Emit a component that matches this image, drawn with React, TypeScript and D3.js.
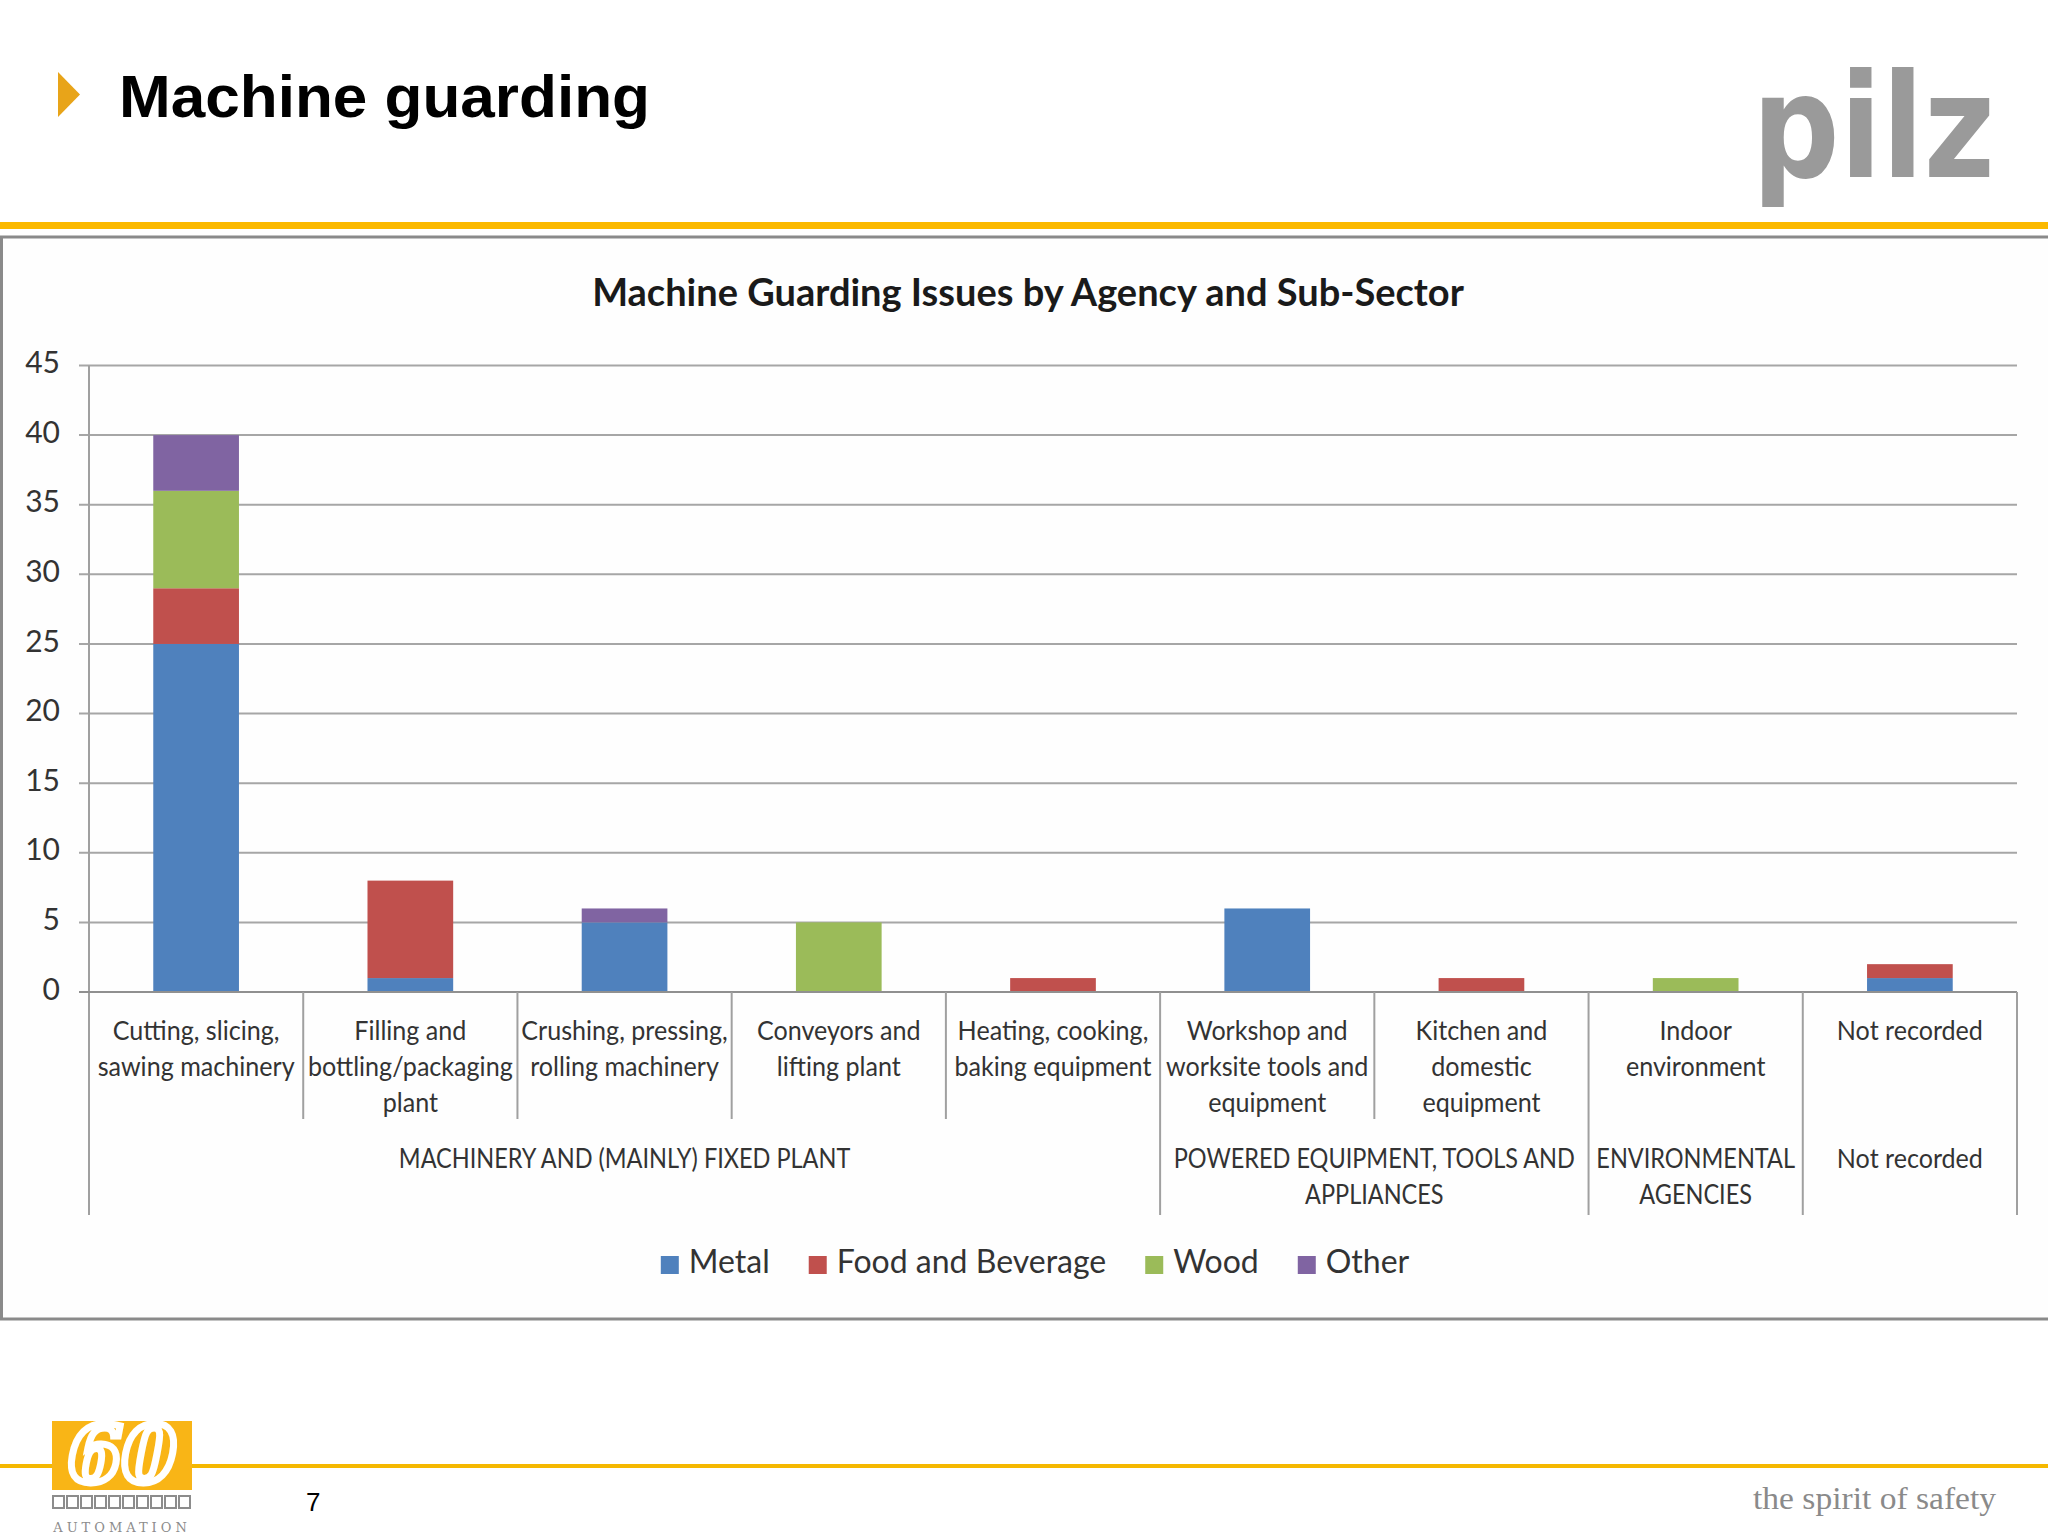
import * as d3 from "d3";

// categories (wrapped lines as shown on the axis)
const categoryLines = [
  ["Cutting, slicing,", "sawing machinery"],
  ["Filling and", "bottling/packaging", "plant"],
  ["Crushing, pressing,", "rolling machinery"],
  ["Conveyors and", "lifting plant"],
  ["Heating, cooking,", "baking equipment"],
  ["Workshop and", "worksite tools and", "equipment"],
  ["Kitchen and", "domestic", "equipment"],
  ["Indoor", "environment"],
  ["Not recorded"],
];
const categories = categoryLines.map((l) => l.join(" "));

// agency groups and how many categories each one covers
const groupLines = [
  ["MACHINERY AND (MAINLY) FIXED PLANT"],
  ["POWERED EQUIPMENT, TOOLS AND", "APPLIANCES"],
  ["ENVIRONMENTAL", "AGENCIES"],
  ["Not recorded"],
];
const groupSpans = [5, 2, 1, 1];

// series values
const metal = [25, 1, 5, 0, 0, 6, 0, 0, 1];
const foodAndBeverage = [4, 7, 0, 0, 1, 0, 1, 0, 1];
const wood = [7, 0, 0, 5, 0, 0, 0, 1, 0];
const other = [4, 0, 1, 0, 0, 0, 0, 0, 0];

const seriesNames = ["Metal", "Food and Beverage", "Wood", "Other"];
const seriesColors = ["#4F81BD", "#C0504D", "#9BBB59", "#8064A2"];

const W = 2048;
const H = 1536;
const PLOT = { left: 89, right: 2017, top: 365.5, bottom: 992 };
const FONT = "Lato, 'Open Sans', sans-serif";

export default function App() {
  const rows = categories.map((c, i) => ({
    category: c,
    Metal: metal[i],
    "Food and Beverage": foodAndBeverage[i],
    Wood: wood[i],
    Other: other[i],
  }));
  const stacked = d3.stack().keys(seriesNames)(rows as any);

  const x = d3.scaleBand().domain(categories).range([PLOT.left, PLOT.right]).padding(0);
  const y = d3.scaleLinear().domain([0, 45]).range([PLOT.bottom, PLOT.top]);
  const color = d3.scaleOrdinal<string>().domain(seriesNames).range(seriesColors);

  const bw = x.bandwidth();
  const barW = bw * 0.4;
  const ticks = y.ticks(9);

  // group boundaries (category indexes)
  const groupStarts = groupSpans.map((_, i) => d3.sum(groupSpans.slice(0, i)));
  const groupEnds = new Set(groupStarts.concat([categories.length]));

  const edgeX = (i: number) => (i < categories.length ? x(categories[i])! : PLOT.right);

  // legend layout measured with canvas
  const legendFont = 32;
  const ctx = document.createElement("canvas").getContext("2d")!;
  ctx.font = `${legendFont}px Lato`;
  const sq = 18;
  const items = seriesNames.map((n) => ({ name: n, w: sq + 10 + ctx.measureText(n).width }));
  const gap = 39;
  const totalW = d3.sum(items, (d) => d.w) + gap * (items.length - 1);
  let cursor = 1035 - totalW / 2;
  const legendItems = items.map((it) => {
    const o = { ...it, x: cursor };
    cursor += it.w + gap;
    return o;
  });

  return (
    <svg
      width={W}
      height={H}
      style={{ position: "absolute", left: 0, top: 0, background: "#fff" }}
    >
      {/* slide header */}
      <path d="M58,72 L80,94.5 L58,117 Z" fill="#E8A419" />
      <text
        x={119}
        y={117}
        fontFamily="'Liberation Sans', Arial, sans-serif"
        fontWeight="bold"
        fontSize={60}
        textLength={531}
        lengthAdjust="spacingAndGlyphs"
        fill="#000"
      >
        Machine guarding
      </text>
      <text
        x={1752}
        y={177}
        fontFamily="'DejaVu Sans', sans-serif"
        fontWeight="bold"
        fontSize={144}
        textLength={243}
        lengthAdjust="spacingAndGlyphs"
        fill="#9a9a9a"
      >
        pilz
      </text>
      <rect x={0} y={222} width={W} height={7} fill="#FBB900" />

      {/* chart frame */}
      <rect x={1.5} y={237} width={W + 10} height={1082} fill="#fefefe" stroke="#8a8a8a" strokeWidth={3} />

      <text
        x={1028}
        y={306}
        textAnchor="middle"
        fontFamily={FONT}
        fontWeight="bold"
        fontSize={38}
        fill="#1a1a1a"
      >
        Machine Guarding Issues by Agency and Sub-Sector
      </text>

      {/* gridlines + y ticks */}
      {ticks.map((t) => (
        <g key={t}>
          <line x1={79} x2={PLOT.right} y1={y(t)} y2={y(t)} stroke="#a6a6a6" strokeWidth={2} />
          <text
            x={60}
            y={y(t)}
            textAnchor="end"
            dominantBaseline="middle"
            fontFamily={FONT}
            fontSize={30}
            fill="#333"
          >
            {t}
          </text>
        </g>
      ))}

      {/* bars */}
      {stacked.map((s) => (
        <g key={s.key} fill={color(s.key)}>
          {s.map((d, i) =>
            d[1] - d[0] > 0 ? (
              <rect
                key={i}
                x={x(categories[i])! + (bw - barW) / 2}
                y={y(d[1])}
                width={barW}
                height={y(d[0]) - y(d[1])}
              />
            ) : null
          )}
        </g>
      ))}

      {/* axes */}
      <line x1={PLOT.left} x2={PLOT.left} y1={PLOT.top} y2={1215} stroke="#a0a0a0" strokeWidth={2} />
      <line x1={79} x2={PLOT.right} y1={PLOT.bottom} y2={PLOT.bottom} stroke="#909090" strokeWidth={2} />
      {d3.range(1, categories.length + 1).map((i) => (
        <line
          key={i}
          x1={edgeX(i)}
          x2={edgeX(i)}
          y1={PLOT.bottom}
          y2={groupEnds.has(i) ? 1215 : 1119}
          stroke="#a0a0a0"
          strokeWidth={2}
        />
      ))}

      {/* category labels, squeezed a little to fit like the original narrow font */}
      {categoryLines.map((lines, i) => (
        <g key={i} transform={`translate(${x(categories[i])! + bw / 2},0) scale(0.93,1)`}>
          <text textAnchor="middle" fontFamily={FONT} fontSize={27} fill="#333">
            {lines.map((l, j) => (
              <tspan key={j} x={0} y={1040 + j * 36}>
                {l}
              </tspan>
            ))}
          </text>
        </g>
      ))}

      {/* group labels */}
      {groupLines.map((lines, g) => {
        const cx = (edgeX(groupStarts[g]) + edgeX(groupStarts[g] + groupSpans[g])) / 2;
        const s = lines[0] === lines[0].toUpperCase() ? 0.87 : 0.93;
        return (
          <g key={g} transform={`translate(${cx},0) scale(${s},1)`}>
            <text textAnchor="middle" fontFamily={FONT} fontSize={27} fill="#333">
              {lines.map((l, j) => (
                <tspan key={j} x={0} y={1168 + j * 36}>
                  {l}
                </tspan>
              ))}
            </text>
          </g>
        );
      })}

      {/* legend */}
      {legendItems.map((it) => (
        <g key={it.name}>
          <rect x={it.x} y={1256} width={sq} height={sq} fill={color(it.name)} />
          <text
            x={it.x + sq + 10}
            y={1265}
            dominantBaseline="middle"
            fontFamily={FONT}
            fontSize={legendFont}
            fill="#333"
          >
            {it.name}
          </text>
        </g>
      ))}

      {/* footer */}
      <rect x={0} y={1464} width={W} height={4} fill="#F5B800" />
      <rect x={52} y={1421} width={140} height={69} fill="#F9B516" />
      <text
        x={122}
        y={1482}
        textAnchor="middle"
        fontFamily="'DejaVu Serif', serif"
        fontStyle="italic"
        fontWeight="bold"
        fontSize={78}
        fill="none"
        stroke="#fff"
        strokeWidth={7}
      >
        60
      </text>
      {d3.range(10).map((i) => (
        <rect key={i} x={53 + i * 14} y={1496} width={11} height={12} fill="none" stroke="#8c8c8c" strokeWidth={2} />
      ))}
      <text
        x={122}
        y={1532}
        textAnchor="middle"
        fontFamily="'DejaVu Serif', serif"
        fontSize={13}
        letterSpacing={4}
        fill="#8c8c8c"
      >
        AUTOMATION
      </text>
      <text x={306} y={1511} fontFamily="'Liberation Sans', Arial, sans-serif" fontSize={26} fill="#000">
        7
      </text>
      <text
        x={1753}
        y={1509}
        fontFamily="'Liberation Serif', 'DejaVu Serif', serif"
        fontSize={32}
        textLength={243}
        lengthAdjust="spacingAndGlyphs"
        fill="#8a8a8a"
      >
        the spirit of safety
      </text>
    </svg>
  );
}
